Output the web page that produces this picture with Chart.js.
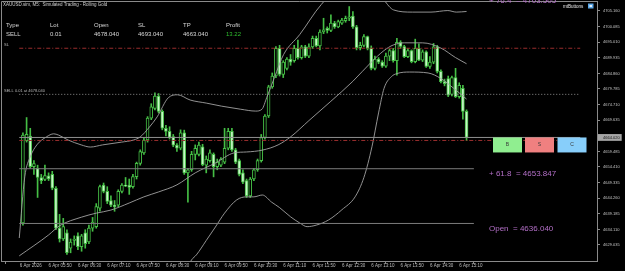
<!DOCTYPE html>
<html>
<head>
<meta charset="utf-8">
<script src="https://cdn.jsdelivr.net/npm/chart.js@4.4.1/dist/chart.umd.min.js"></script>
<style>
  html, body { margin: 0; padding: 0; background: #000; }
  canvas { display: block; }
</style>
</head>
<body>
<canvas id="chart" width="625" height="271"></canvas>
<script>
// ----------------------------------------------------
// DATA (XAUUSD.sim M5, bar 0 = 6 Apr 05:15)
// ----------------------------------------------------

const opens = [4636.2,4663.0,4664.5,4654.5,4654.0,4651.0,4650.4,4651.5,4652.0,4647.5,
  4634.5,4631.0,4633.0,4628.0,4630.5,4632.0,4628.5,4633.0,4630.0,4634.5,
  4635.0,4641.0,4648.5,4646.5,4643.5,4642.0,4642.0,4646.5,4648.5,4648.5,
  4648.0,4651.3,4655.6,4659.0,4663.2,4670.3,4673.5,4677.5,4672.5,4667.0,
  4666.0,4664.3,4661.5,4660.5,4665.5,4652.5,4653.5,4658.5,4658.5,4661.0,
  4655.0,4656.5,4658.5,4654.5,4655.0,4656.0,4660.5,4666.0,4660.0,4656.5,
  4652.5,4650.0,4645.0,4650.5,4653.5,4656.5,4664.0,4671.0,4680.5,4684.0,
  4693.0,4684.5,4686.5,4689.5,4689.0,4693.0,4690.0,4693.5,4690.5,4693.5,
  4696.3,4693.8,4698.4,4699.5,4698.8,4701.2,4700.0,4701.2,4702.0,4702.8,
  4703.5,4700.0,4693.2,4694.0,4696.8,4693.0,4686.5,4689.5,4688.5,4687.2,
  4690.5,4692.3,4689.0,4695.0,4693.6,4690.3,4692.3,4688.7,4693.0,4689.2,
  4691.9,4687.1,4688.5,4693.5,4685.5,4682.2,4683.2,4678.0,4683.5,4677.3,
  4680.0,4672.5];
const highs = [4665.5,4670.5,4667.0,4656.5,4655.0,4652.0,4655.0,4652.5,4653.0,4648.0,
  4639.0,4637.7,4634.0,4631.0,4632.0,4633.0,4632.5,4634.0,4635.5,4638.0,
  4642.5,4648.5,4649.2,4648.0,4645.0,4643.5,4647.0,4649.0,4651.0,4650.5,
  4652.0,4656.0,4660.0,4664.0,4670.8,4675.0,4678.5,4678.3,4673.0,4668.0,
  4667.5,4665.0,4662.0,4666.5,4666.4,4654.0,4659.5,4661.6,4662.5,4661.8,
  4658.0,4660.0,4659.0,4657.0,4657.5,4667.0,4667.0,4667.0,4660.5,4657.0,
  4653.5,4650.5,4651.0,4654.0,4657.0,4665.0,4671.5,4681.0,4685.0,4693.6,
  4694.0,4689.0,4690.0,4691.0,4694.0,4695.7,4694.0,4694.0,4694.5,4697.0,
  4697.0,4699.0,4702.8,4700.0,4703.9,4701.8,4702.2,4702.8,4703.5,4706.6,
  4705.0,4700.5,4695.0,4697.5,4697.0,4693.8,4690.5,4690.0,4689.0,4691.5,
  4692.8,4693.0,4696.3,4695.5,4694.0,4693.0,4692.5,4696.0,4694.5,4692.5,
  4692.2,4690.3,4694.6,4694.0,4686.0,4683.0,4684.0,4684.0,4686.5,4681.8,
  4681.0,4673.0];
const lows = [4635.5,4662.5,4654.0,4652.0,4644.5,4649.0,4650.0,4650.0,4647.0,4634.0,
  4630.0,4630.5,4626.0,4626.5,4629.0,4627.5,4627.0,4628.0,4629.5,4633.5,
  4634.5,4640.0,4646.0,4642.5,4641.5,4640.0,4641.5,4646.0,4648.0,4645.5,
  4647.5,4650.5,4655.0,4658.5,4662.5,4669.8,4673.0,4672.0,4666.5,4664.5,
  4663.5,4661.0,4659.5,4660.0,4652.0,4643.0,4653.0,4656.7,4658.0,4654.8,
  4652.5,4656.0,4651.2,4653.5,4654.5,4655.5,4660.0,4659.5,4655.5,4651.5,
  4649.0,4644.5,4644.5,4650.0,4653.0,4656.0,4663.5,4670.5,4680.0,4683.5,
  4684.0,4683.5,4686.0,4687.5,4688.5,4689.5,4689.5,4690.0,4690.0,4693.0,
  4693.5,4692.5,4697.8,4698.0,4698.4,4699.5,4699.7,4700.8,4701.5,4702.0,
  4699.5,4692.5,4692.5,4693.5,4692.5,4686.0,4686.0,4688.0,4686.8,4686.8,
  4689.0,4688.5,4684.3,4693.0,4690.0,4690.0,4688.3,4688.3,4689.0,4688.7,
  4686.8,4686.5,4688.0,4685.0,4681.8,4680.8,4677.3,4677.5,4677.0,4676.8,
  4670.0,4663.0];
const closes = [4664.8,4665.0,4654.5,4655.5,4651.0,4650.0,4651.6,4650.5,4647.5,4634.5,
  4631.0,4635.0,4626.5,4630.0,4631.0,4628.5,4632.0,4629.5,4634.5,4636.5,
  4641.5,4648.0,4646.5,4643.2,4642.0,4641.5,4646.5,4648.5,4648.2,4647.8,
  4651.3,4655.6,4659.4,4663.2,4670.3,4674.0,4677.5,4672.5,4667.0,4666.0,
  4664.0,4661.5,4660.5,4665.5,4652.5,4653.5,4658.5,4660.5,4661.5,4655.2,
  4657.0,4659.0,4654.5,4656.0,4657.0,4660.5,4666.0,4660.0,4656.0,4652.0,
  4649.5,4645.0,4650.5,4653.5,4656.5,4664.0,4671.0,4680.5,4684.0,4693.0,
  4684.5,4688.5,4689.5,4688.5,4693.0,4690.0,4693.5,4690.5,4693.5,4696.3,
  4693.8,4698.3,4699.0,4698.8,4701.2,4700.0,4701.7,4702.2,4702.8,4703.3,
  4700.0,4693.2,4694.0,4696.8,4693.0,4686.5,4689.5,4688.5,4687.2,4690.5,
  4692.3,4689.0,4695.0,4693.6,4690.3,4692.3,4688.7,4693.0,4689.2,4691.9,
  4687.1,4688.5,4693.5,4685.5,4682.2,4681.5,4677.8,4683.5,4677.3,4681.0,
  4672.5,4664.02];

// Bollinger bands (bar position -> price)
const upperBars = [-1,0.5,2,3.8,6.4,8.4,9.7,12.3,15.9,18.4,21.7,26.9,30.2,32,34.5,36.6,39.7,42.2,45.6,50,
  54.2,59.4,63.5,65.2,66.5,68.6,71.1,75.5,81.4,88,96,98.5,101.1,106.2,111.3,115.9,118.2,121];
const upperVals = [4631.3,4651.2,4657.7,4661.6,4664.2,4665.2,4664.8,4663.2,4661.6,4660.9,4661.6,4662.5,4663.2,4664.2,4667.4,4670.7,4677.0,4677.9,4676.2,4675.2,
  4674.2,4673.2,4672.6,4673.2,4677.0,4683.5,4691.0,4697.5,4707.3,4714,4713,4708.7,4705.5,4704.8,4704.8,4705.3,4704.8,4705.0];
const midBars = [-1,7,10,16,20,24,29,33,37,42,47,52.5,57.6,61,65.3,69.6,73,78,84,90,95,98.5,101,104,109,114,118,121];
const midVals = [4625.5,4632.3,4635.3,4638.1,4639.4,4640.4,4642.7,4644.7,4646.3,4648.6,4652.5,4655.7,4659.0,4659.3,4659.9,4661.6,4664.2,4669.5,4675.8,4682.3,4688.5,4692.3,4694.1,4694.8,4694.8,4693.1,4690.0,4688.0];
const lowerBars = [36,42,46,47.3,50,52.5,55,58.3,61,63,65.3,67.8,70,73,75.5,77.5,80,83.4,87,90.6,93,95.2,97,98.5,100.5,102,105.5,110.5,114,117.5,121];
const lowerVals = [4605,4615,4624.2,4625.8,4630.5,4634.9,4639.4,4643.7,4644.7,4644.7,4645.3,4643.0,4641.2,4638.2,4636.2,4635.0,4635.5,4637.2,4640.5,4644.7,4651,4661,4672,4680,4683.8,4684.8,4685.3,4685.0,4683.2,4680.0,4676.5];

// axis ticks
const timeTickBars = [-0.85,7,15,23,31,39,47,55,63,71,79,87,95,103,111,119];
const timeTickLabels = ['6 Apr 2026','6 Apr 05:50','6 Apr 06:30','6 Apr 07:10','6 Apr 07:50','6 Apr 08:30',
  '6 Apr 09:10','6 Apr 09:50','6 Apr 10:30','6 Apr 11:10','6 Apr 11:50','6 Apr 12:30','6 Apr 13:10',
  '6 Apr 13:50','6 Apr 14:30','6 Apr 15:10'];
const priceTicks = [4629.035,4634.110,4639.185,4644.260,4649.335,4654.410,4659.485,4664.020,
  4669.635,4674.710,4679.785,4684.860,4689.935,4695.010,4700.085,4705.160];

// trade levels
const bidPrice = 4664.02;
const slPrice = 4693.04;
const entryPrice = 4678.04;
const tpPrice = 4663.04;
const fibLevels = [4653.847, 4636.040];
const fibTexts = ['+ 61.8  = 4653.847', 'Open  = 4636.040'];
const topFibText = '+ 76.4  = 4703.505';

// order panel
const panelHeads = ['Type', 'Lot', 'Open', 'SL', 'TP', 'Profit'];
const panelVals = ['SELL', '0.01', '4678.040', '4693.040', '4663.040', '13.22'];

const FONT = "'Liberation Sans', Arial, sans-serif";
const GRID = '#8a8a8a';
const CANDLE_LINE = '#45be45';
const BEAR_FILL = '#c6f6c6';
const LEVEL_RED = '#9a2d2d';

// ----------------------------------------------------
// DATASET BUILDERS
// ----------------------------------------------------

function bandLine(bars, vals) {
    return {
        type: 'line',
        data: bars.map((b, k) => ({ x: b, y: vals[k] })),
        borderColor: '#a2a2a2',
        borderWidth: 0.9,
        pointRadius: 0,
        cubicInterpolationMode: 'monotone',
        order: 1
    };
}

function levelLine(price, fromBar, toBar, color, dash) {
    return {
        type: 'line',
        data: [{ x: fromBar, y: price }, { x: toBar, y: price }],
        borderColor: color,
        borderWidth: 1,
        borderDash: dash,
        pointRadius: 0,
        order: 0
    };
}

const barIdx = opens.map((_, i) => i);
const isBull = barIdx.map(i => closes[i] >= opens[i]);

// ----------------------------------------------------
// OVERLAY (background, frame, texts, buttons)
// ----------------------------------------------------

const overlayPlugin = {
    id: 'overlay',
    beforeDraw(chart) {
        const c = chart.ctx;
        c.save();
        c.fillStyle = '#000';
        c.fillRect(0, 0, chart.width, chart.height);
        c.restore();
    },
    afterDraw(chart) {
        const c = chart.ctx;
        const a = chart.chartArea;
        const y = chart.scales.y;
        c.save();

        // left + top frame
        c.strokeStyle = GRID;
        c.lineWidth = 1;
        c.beginPath();
        c.moveTo(a.left + 0.5, a.bottom);
        c.lineTo(a.left + 0.5, a.top + 0.5);
        c.lineTo(a.right, a.top + 0.5);
        c.stroke();

        c.textBaseline = 'middle';
        c.textAlign = 'left';

        // title
        c.fillStyle = '#d0d0d0';
        c.font = `4.5px ${FONT}`;
        c.fillText('XAUUSD.sim, M5:  Simulated Trading - Rolling Gold', 3, 5);

        // order panel
        const cols = [6, 50, 94, 138, 183, 226];
        c.font = `6px ${FONT}`;
        panelHeads.forEach((t, k) => {
            c.fillStyle = '#d8d8d8';
            c.fillText(t, cols[k], 25);
            c.fillStyle = k === 5 ? '#2fbf2f' : '#d8d8d8';
            c.fillText(panelVals[k], cols[k], 34);
        });

        // line labels
        c.fillStyle = '#b8b8b8';
        c.font = `4px ${FONT}`;
        c.fillText('SL', 4, y.getPixelForValue(slPrice) - 3);
        c.fillText('SELL 0.01 at 4678.040', 4, y.getPixelForValue(entryPrice) - 3);

        // fib texts
        c.fillStyle = '#b36fc7';
        c.font = `8px ${FONT}`;
        fibLevels.forEach((lv, k) => {
            c.fillText(fibTexts[k], 489, y.getPixelForValue(lv) + 5);
        });
        c.textBaseline = 'alphabetic';
        c.fillText(topFibText, 489, 3.3);

        // mtButtons label
        c.textBaseline = 'middle';
        c.fillStyle = '#e8e8e8';
        c.font = `4.5px ${FONT}`;
        c.fillText('mtButtons', 563, 6.5);
        c.fillStyle = '#5aa6e6';
        c.fillRect(588, 3.5, 5.5, 5);
        c.fillStyle = '#dfeffa';
        c.fillRect(589.5, 5, 2.5, 2);

        // B / S / C buttons
        const top = y.getPixelForValue(bidPrice);
        const btns = [['B', 493, '#90ee90'], ['S', 525, '#f08080'], ['C', 557.5, '#87cefa']];
        c.font = `5px ${FONT}`;
        c.textAlign = 'center';
        btns.forEach(([t, bx, col]) => {
            c.fillStyle = col;
            c.fillRect(bx, top, 29, 15);
            c.fillStyle = '#3a3a3a';
            c.fillText(t, bx + 14.5, top + 7.5);
        });

        c.restore();
    }
};

// ----------------------------------------------------
// CHART
// ----------------------------------------------------

new Chart(document.getElementById('chart').getContext('2d'), {
    type: 'bar',
    data: {
        datasets: [
            levelLine(slPrice, -1, 152, LEVEL_RED, [4, 2, 1, 2]),
            levelLine(entryPrice, -1, 152, '#8c8c8c', [1, 2]),
            levelLine(bidPrice, -1, 152, '#909090', []),
            levelLine(tpPrice, -1, 152, LEVEL_RED, [4, 2, 1, 2]),
            levelLine(fibLevels[0], -1, 123, '#7c7c7c', []),
            levelLine(fibLevels[1], -1, 123, '#7c7c7c', []),
            bandLine(upperBars, upperVals),
            bandLine(midBars, midVals),
            bandLine(lowerBars, lowerVals),
            {
                // bodies
                data: barIdx.map(i => ({ x: i, y: [opens[i], closes[i]] })),
                backgroundColor: barIdx.map(i => isBull[i] ? '#000' : BEAR_FILL),
                borderColor: CANDLE_LINE,
                borderWidth: 1,
                borderSkipped: false,
                barThickness: 3,
                minBarLength: 1,
                grouped: false,
                order: 2
            },
            {
                // wicks
                data: barIdx.map(i => ({ x: i, y: [lows[i], highs[i]] })),
                backgroundColor: CANDLE_LINE,
                borderWidth: 0,
                barThickness: 1,
                grouped: false,
                order: 3
            }
        ]
    },
    options: {
        responsive: false,
        devicePixelRatio: 1,
        animation: false,
        events: [],
        layout: { padding: { left: 1, top: 1, right: 0, bottom: 0 } },
        plugins: { legend: { display: false }, tooltip: { enabled: false } },
        scales: {
            x: {
                type: 'linear',
                min: -0.9,
                max: 151.5,
                afterBuildTicks: s => { s.ticks = timeTickBars.map(v => ({ value: v })); },
                afterFit: s => { s.height = 10; s.paddingLeft = 0; s.paddingRight = 0; },
                grid: { drawOnChartArea: false, tickLength: 3, color: GRID },
                border: { color: GRID },
                ticks: {
                    autoSkip: false,
                    maxRotation: 0,
                    align: 'start',
                    padding: -1,
                    color: '#bdbdbd',
                    font: { family: FONT, size: 4.5 },
                    callback: (v, idx) => timeTickLabels[idx]
                }
            },
            y: {
                type: 'linear',
                position: 'right',
                min: 4623.83,
                max: 4708.41,
                afterBuildTicks: s => { s.ticks = priceTicks.map(v => ({ value: v })); },
                afterFit: s => { s.width = 28; s.paddingTop = 0; s.paddingBottom = 0; },
                grid: { drawOnChartArea: false, tickLength: 3, color: GRID },
                border: { color: GRID },
                ticks: {
                    padding: 3,
                    font: { family: FONT, size: 4 },
                    color: ctx => ctx.tick.value === bidPrice ? '#111' : '#c4c4c4',
                    showLabelBackdrop: ctx => ctx.tick.value === bidPrice,
                    backdropColor: '#a6a6a6',
                    backdropPadding: { left: 5, right: 2, top: 1, bottom: 1 },
                    callback: v => v.toFixed(3)
                }
            }
        }
    },
    plugins: [overlayPlugin]
});
</script>
</body>
</html>
